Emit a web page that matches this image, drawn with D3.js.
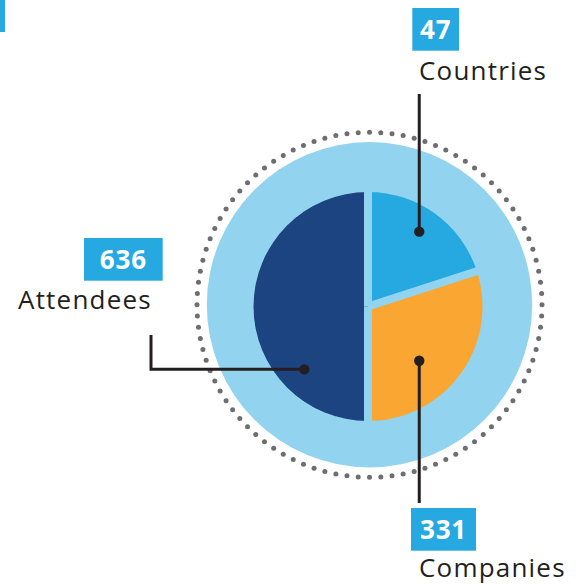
<!DOCTYPE html>
<html>
<head>
<meta charset="utf-8">
<script src="https://cdn.jsdelivr.net/npm/d3@7"></script>
<style>
  html, body { margin: 0; padding: 0; background: #ffffff; }
  svg { display: block; }
</style>
</head>
<body>
<svg id="chart" width="581" height="585"></svg>
<script>
// ---- data ----
const categories = ["Countries", "Companies", "Attendees"];
const counts = [47, 331, 636];
const shares = [20, 30, 50];           // visual share of the pie (percent)

// ---- layout / style ----
const W = 581, H = 585;
const cx = 368, cy = 306.5;
const pieR = 114.5;
const discCx = 369.5, discCy = 304.8, discR = 162.7;
const dotsR = 172.5, nDots = 96, dotSize = 2.5;
const gap = 8;
const colors = ["#25a9e0", "#f9a632", "#1b4480"];
const lightBlue = "#92d4ef";
const ink = "#231f20";
const boxBlue = "#25a9e0";

// annotation layout per slice: dot (angle deg from north, radius), leader path, label box
const annot = [
  { dotA: 34.4, dotR: 90.7, leader: "v", endY: 94,  box: [412.3, 8, 46.7, 42.7],  labX: 419, labY: 80 },
  { dotA: 136.6, dotR: 74.6, leader: "v", endY: 503, box: [411, 508, 65, 42.7],   labX: 419, labY: 577 },
  { dotA: 225.4, dotR: 89.5, leader: "L", endX: 151, endY: 335, box: [84, 238, 78.7, 42.7], labX: 18, labY: 309 }
];

const svg = d3.select("#chart");

// top-left accent bar
svg.append("rect").attr("x", 0).attr("y", 0).attr("width", 5).attr("height", 32).attr("fill", boxBlue);

// dotted ring
const dotAngles = d3.range(nDots).map(i => i * 2 * Math.PI / nDots);
svg.append("g").selectAll("circle").data(dotAngles).join("circle")
  .attr("cx", a => discCx + dotsR * Math.sin(a))
  .attr("cy", a => discCy - dotsR * Math.cos(a))
  .attr("r", dotSize)
  .attr("fill", "#6d6e71");

// light blue disc
svg.append("circle").attr("cx", discCx).attr("cy", discCy).attr("r", discR).attr("fill", lightBlue);

// pie
const pie = d3.pie().sort(null).value(d => d.share);
const data = categories.map((c, i) => ({ name: c, count: counts[i], share: shares[i], i }));
const arcs = pie(data);
const arc = d3.arc().innerRadius(0).outerRadius(pieR);

const g = svg.append("g").attr("transform", `translate(${cx},${cy})`);
g.selectAll("path.slice").data(arcs).join("path")
  .attr("class", "slice")
  .attr("d", arc)
  .attr("fill", d => colors[d.data.i]);

// constant-width gaps between slices
g.selectAll("line.gap").data(arcs).join("line")
  .attr("class", "gap")
  .attr("x1", 0).attr("y1", 0)
  .attr("x2", d => (pieR + 3) * Math.sin(d.startAngle))
  .attr("y2", d => -(pieR + 3) * Math.cos(d.startAngle))
  .attr("stroke", lightBlue)
  .attr("stroke-width", gap);

// annotations
const ag = svg.append("g");
arcs.forEach((d, k) => {
  const a = annot[d.data.i];
  const rad = a.dotA * Math.PI / 180;
  const dx = cx + a.dotR * Math.sin(rad);
  const dy = cy - a.dotR * Math.cos(rad);
  let path;
  if (a.leader === "v") {
    path = d3.path(); path.moveTo(dx, dy); path.lineTo(dx, a.endY);
  } else {
    path = d3.path(); path.moveTo(dx, dy); path.lineTo(a.endX, dy); path.lineTo(a.endX, a.endY);
  }
  ag.append("path").attr("d", path.toString())
    .attr("fill", "none").attr("stroke", ink).attr("stroke-width", 3).attr("stroke-linejoin", "miter");
  ag.append("circle").attr("cx", dx).attr("cy", dy).attr("r", 5.2).attr("fill", ink);

  const [bx, by, bw, bh] = a.box;
  ag.append("rect").attr("x", bx).attr("y", by).attr("width", bw).attr("height", bh).attr("fill", boxBlue);
  ag.append("text")
    .attr("x", bx + bw / 2).attr("y", by + bh / 2 + 9.5)
    .attr("text-anchor", "middle")
    .attr("font-family", "'Open Sans', sans-serif")
    .attr("font-weight", 700)
    .attr("font-size", 26)
    .attr("letter-spacing", 0.8)
    .attr("fill", "#ffffff")
    .text(d.data.count);
  ag.append("text")
    .attr("x", a.labX).attr("y", a.labY)
    .attr("font-family", "'Open Sans', sans-serif")
    .attr("font-size", 26)
    .attr("letter-spacing", 1.2)
    .attr("fill", ink)
    .text(d.data.name);
});
</script>
</body>
</html>
